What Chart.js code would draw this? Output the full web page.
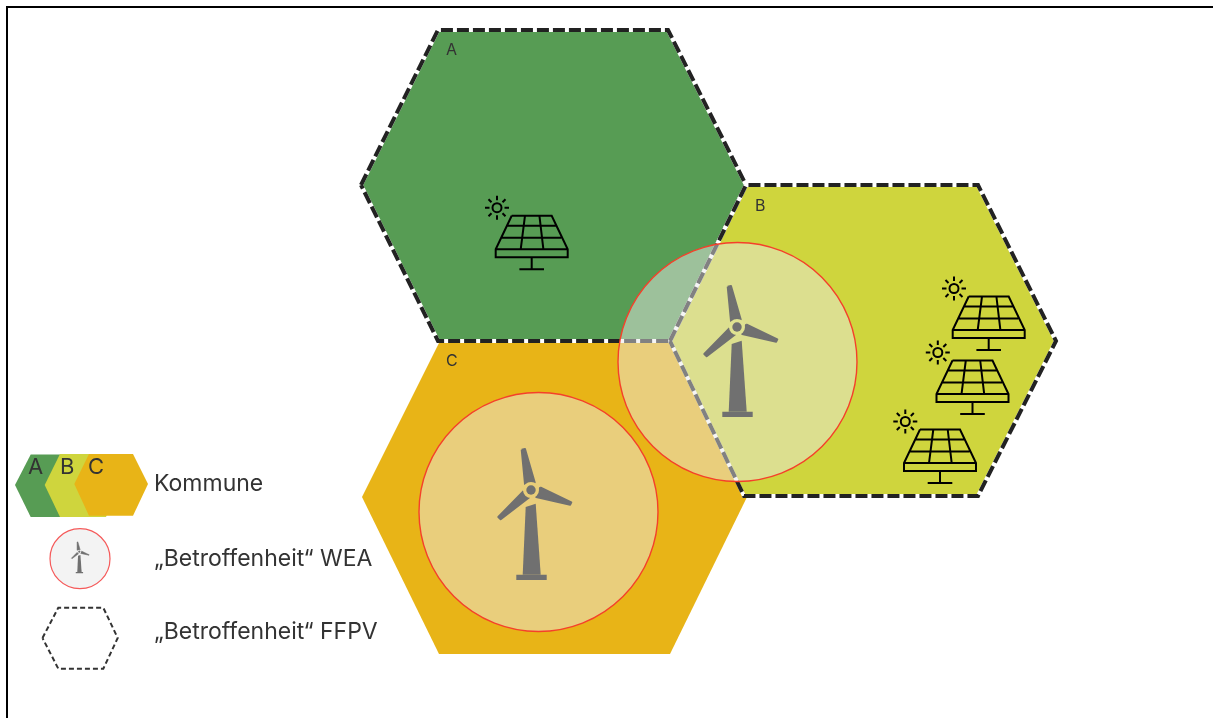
<!DOCTYPE html>
<html>
<head>
<meta charset="utf-8">
<title>Betroffenheit Kommunen</title>
<script src="https://cdn.jsdelivr.net/npm/chart.js@4/dist/chart.umd.js"></script>
<style>
  html, body { margin: 0; padding: 0; background: #fff; overflow: hidden; }
  canvas { display: block; }
</style>
</head>
<body>
<canvas id="chart" width="1213" height="718"></canvas>
<script>
// Hexagons (x, y)
const hexA = [[361, 185], [438, 30], [668, 30], [746, 185], [670, 341], [438, 341]];
const hexB = [[670, 341], [746, 185], [978, 185], [1056, 341], [978, 496], [744, 496]];
const hexC = [[362, 497], [439, 343], [670, 343], [747, 497], [670, 654], [439, 654]];

const legendHexA = [[15, 485], [30.7, 454.5], [74, 454.5], [89, 485], [74, 517], [30.7, 517]];
const legendHexB = [[44.7, 485], [60, 454], [104, 454], [119, 485], [106, 517], [60, 517]];
const legendHexC = [[74.3, 484], [89, 454], [133, 454], [148, 484], [133, 515.7], [89, 515.7]];
const legendHexDashed = [[42.5, 638], [58.3, 607.7], [103.3, 607.7], [117.7, 638], [103.3, 668.7], [58.3, 668.7]];

// Circles: x, y
const circleCentres = [[737.5, 362], [538.5, 512]];
const legendCircle = [[80, 558.7]];

// Turbines: hub x, hub y, scale, ring colour
const turbineHubs = [[737, 327], [531, 490], [79.3, 551.7]];
const turbineScales = [1, 1, 0.24];
const turbineRings = ['#DFE291', '#E9CE78', '#F3F3F3'];

// Solar panels: top centre of the panel
const panelAnchors = [[531.7, 215.7], [988.7, 296.5], [972.5, 360.5], [940, 429.5]];

// Turbine shapes, relative to the hub
const towerShape = [[-5.3, 17], [4.7, 13.7], [9.7, 84.7], [-8.3, 84.7]];
const baseShape = [[-14.7, 84.7], [15.7, 84.7], [15.7, 90], [-14.7, 90]];
const bladeUp = [[-9.3, -40.3], [-6, -41], [3.7, -7.5], [-6, -6]];
const bladeRight = [[9.2, -2.7], [40.3, 12.3], [39.2, 14.7], [5.2, 7]];
const bladeLeft = [[-7.5, 1.3], [-2, 7.5], [-30.3, 29.3], [-32.7, 27]];

// Solar panel lines, relative to the anchor, null breaks the line
const panelLines = [
  [-20, 0], [20, 0], [36, 33.6], [36, 41.6], [-36, 41.6], [-36, 33.6], [-20, 0], null,
  [-36, 33.6], [36, 33.6], null,
  [-25, 10], [24.5, 10], null,
  [-30, 22], [29.5, 22], null,
  [-6.7, 0], [-11, 33.6], null,
  [7.7, 0], [11.7, 33.6], null,
  [0, 41.6], [0, 53.6], null,
  [-12.3, 53.6], [12.3, 53.6]
];
const sunOffset = [-34.7, -8];
const sunRays = [
  [0, -12], [0, -7.5], null, [0, 7.5], [0, 12], null,
  [-12, 0], [-7.5, 0], null, [7.5, 0], [12, 0], null,
  [-8.5, -8.5], [-5.5, -5.5], null, [5.5, -5.5], [8.5, -8.5], null,
  [-8.5, 8.5], [-5.5, 5.5], null, [5.5, 5.5], [8.5, 8.5]
];

const frameLine = [[7, 718], [7, 7], [1213, 7]];

// Text
const textLabels = ['A', 'B', 'C', 'A', 'B', 'C', 'Kommune', '\u201EBetroffenheit\u201C WEA', '\u201EBetroffenheit\u201C FFPV'];
const textX = [446, 755, 446, 28, 60, 88, 154, 154, 154];
const textY = [50, 206, 361, 467, 467, 467, 484.5, 559, 632];
const textSizes = [16, 16, 16, 22, 22, 22, 23, 23, 23];

// Colours
const green = '#579C54';
const yellow = '#CFD53D';
const orange = '#E8B417';
const grey = '#707070';
const dark = '#222222';
const overlay = 'rgba(234, 234, 234, 0.48)';
const red = '#F5402A';

function toPoints(list) {
  return list.map(p => p ? { x: p[0], y: p[1] } : { x: null, y: null });
}

function place(list, anchor, scale) {
  return list.map(p => p ? [anchor[0] + p[0] * scale, anchor[1] + p[1] * scale] : null);
}

const datasets = [];

function addShape(list, color) {
  datasets.push({
    data: toPoints(list.concat([list[0]])),
    showLine: true, fill: 'shape', backgroundColor: color,
    borderColor: color, borderWidth: 0, pointRadius: 0, tension: 0
  });
}

function addLine(list, color, width, dash) {
  datasets.push({
    data: toPoints(list),
    showLine: true, fill: false, spanGaps: false,
    borderColor: color, borderWidth: width, borderDash: dash || [],
    pointRadius: 0, tension: 0
  });
}

function addDots(list, radius, fillColor, lineColor, lineWidth) {
  datasets.push({
    data: toPoints(list),
    showLine: false,
    pointRadius: radius, pointHoverRadius: radius,
    pointBackgroundColor: fillColor, pointBorderColor: lineColor, pointBorderWidth: lineWidth
  });
}

function closed(list) {
  return list.concat([list[0]]);
}

function addTurbine(i) {
  const hub = turbineHubs[i], s = turbineScales[i];
  [towerShape, baseShape].forEach(shape => addShape(place(shape, hub, s), grey));
  [bladeUp, bladeRight, bladeLeft].forEach(shape => {
    addShape(place(shape, hub, s), grey);
    datasets[datasets.length - 1].borderWidth = 2 * s;
    datasets[datasets.length - 1].borderJoinStyle = 'round';
  });
  addDots([hub], 8 * s, turbineRings[i], turbineRings[i], 0);
  addDots([hub], 4.7 * s, grey, grey, 0);
}

function addPanel(anchor) {
  addLine(place(panelLines, anchor, 1), '#000000', 2);
  const sun = [anchor[0] + sunOffset[0], anchor[1] + sunOffset[1]];
  addLine(place(sunRays, sun, 1), '#000000', 2);
  addDots([sun], 4.5, 'rgba(0,0,0,0)', '#000000', 2);
}

// Hexagon fills
addShape(hexA, green);
addShape(hexB, yellow);
addShape(hexC, orange);
addShape(legendHexA, green);
addShape(legendHexB, yellow);
addShape(legendHexC, orange);

// Dashed outlines
[hexA, hexB].forEach(hex => {
  addLine(closed(hex), '#FFFFFF', 4);
  addLine(closed(hex), dark, 4, [12, 4]);
});
addLine(closed(legendHexDashed), '#333333', 2, [5, 3]);

// Panels
panelAnchors.forEach(addPanel);

// Circles
addDots(circleCentres, 119.5, overlay, red, 1.4);
addDots(legendCircle, 30, '#F3F3F3', '#F55A5A', 1.2);

// Turbines
turbineHubs.forEach((hub, i) => addTurbine(i));

// Frame
addLine(frameLine, '#000000', 2);

// first dataset ends up at the bottom
datasets.forEach((d, i) => { d.order = 1000 - i; });

const textPlugin = {
  id: 'textLabels',
  afterDatasetsDraw(chart) {
    const ctx = chart.ctx;
    ctx.save();
    ctx.fillStyle = '#333333';
    ctx.textBaseline = 'middle';
    textLabels.forEach((label, i) => {
      ctx.font = textSizes[i] + 'px Inter, sans-serif';
      ctx.fillText(label, chart.scales.x.getPixelForValue(textX[i]), chart.scales.y.getPixelForValue(textY[i]));
    });
    ctx.restore();
  }
};

new Chart(document.getElementById('chart').getContext('2d'), {
  type: 'scatter',
  data: { datasets: datasets },
  options: {
    responsive: false,
    animation: false,
    events: [],
    layout: { padding: 0, autoPadding: false },
    plugins: { legend: { display: false }, tooltip: { enabled: false } },
    scales: {
      x: { type: 'linear', display: false, min: 0, max: 1213 },
      y: { type: 'linear', display: false, min: 0, max: 718, reverse: true }
    }
  },
  plugins: [textPlugin]
});
</script>
</body>
</html>
